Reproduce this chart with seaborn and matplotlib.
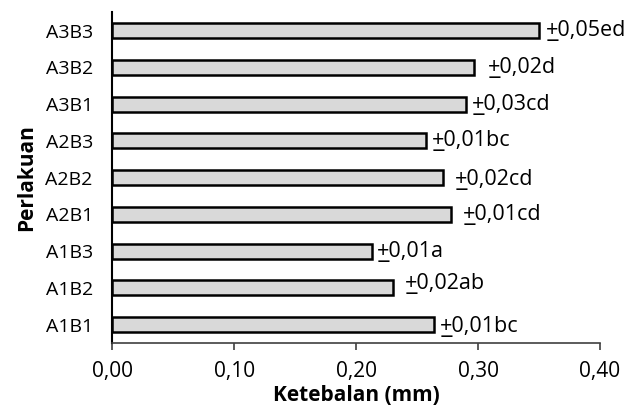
import matplotlib
matplotlib.use("Agg")
import matplotlib.pyplot as plt
import seaborn as sns
import pandas as pd

# data
perlakuan = ["A3B3", "A3B2", "A3B1", "A2B3", "A2B2", "A2B1", "A1B3", "A1B2", "A1B1"]
ketebalan = [0.350, 0.297, 0.290, 0.257, 0.271, 0.278, 0.213, 0.230, 0.264]
sd_text = ["0,05ed", "0,02d", "0,03cd", "0,01bc", "0,02cd", "0,01cd", "0,01a", "0,02ab", "0,01bc"]
x_ticks = [0.0, 0.1, 0.2, 0.3, 0.4]

# label gaps (points) as placed by hand in the original
label_dx = [4.8, 9.8, 4.1, 4.8, 8.4, 8.6, 3.2, 8.9, 4.3]
label_dy = [0, 0, 0, 0, -1.5, 0, 0, 3.5, -1]

df = pd.DataFrame({"perlakuan": perlakuan, "ketebalan": ketebalan})

sns.set_theme(style="white")
plt.rcParams["font.family"] = ["Open Sans", "DejaVu Sans"]
plt.rcParams["text.color"] = "black"

fig = plt.figure(figsize=(6.29, 4.05), dpi=100)
ax = fig.add_axes([112.3 / 629, 62 / 405, 487.7 / 629, 330.7 / 405])

sns.barplot(data=df, x="ketebalan", y="perlakuan", order=perlakuan, orient="h",
            color="#d9d9d9", edgecolor="black", linewidth=1.8, width=0.41,
            saturation=1, ax=ax)

# "+" with a combining low line, as the underlined plus in the reference
for i, (v, t) in enumerate(zip(ketebalan, sd_text)):
    ax.annotate("+\u0332" + t, xy=(v, i), xytext=(label_dx[i], label_dy[i]),
                textcoords="offset points", va="center", ha="left",
                fontsize=15.5, color="black")

ax.set_xlim(0, 0.4)
ax.set_ylim(8.5, -0.5)
ax.set_xticks(x_ticks)
ax.set_xticklabels([f"{t:.2f}".replace(".", ",") for t in x_ticks], fontsize=15)
ax.tick_params(axis="y", labelsize=14, length=0, pad=14, labelcolor="black")
ax.tick_params(axis="x", direction="out", length=5, width=1.2, color="#404040",
               bottom=True, pad=8, labelcolor="black")
ax.set_xlabel("Ketebalan (mm)", fontsize=15, fontweight="bold", labelpad=2, color="black")
ax.set_ylabel("Perlakuan", fontsize=15, fontweight="bold", labelpad=6, color="black")

sns.despine(ax=ax, top=True, right=True)
ax.spines["left"].set_color("black")
ax.spines["left"].set_linewidth(1.5)
ax.spines["bottom"].set_color("#404040")
ax.spines["bottom"].set_linewidth(1.2)

fig.savefig("out.png", dpi=100)
